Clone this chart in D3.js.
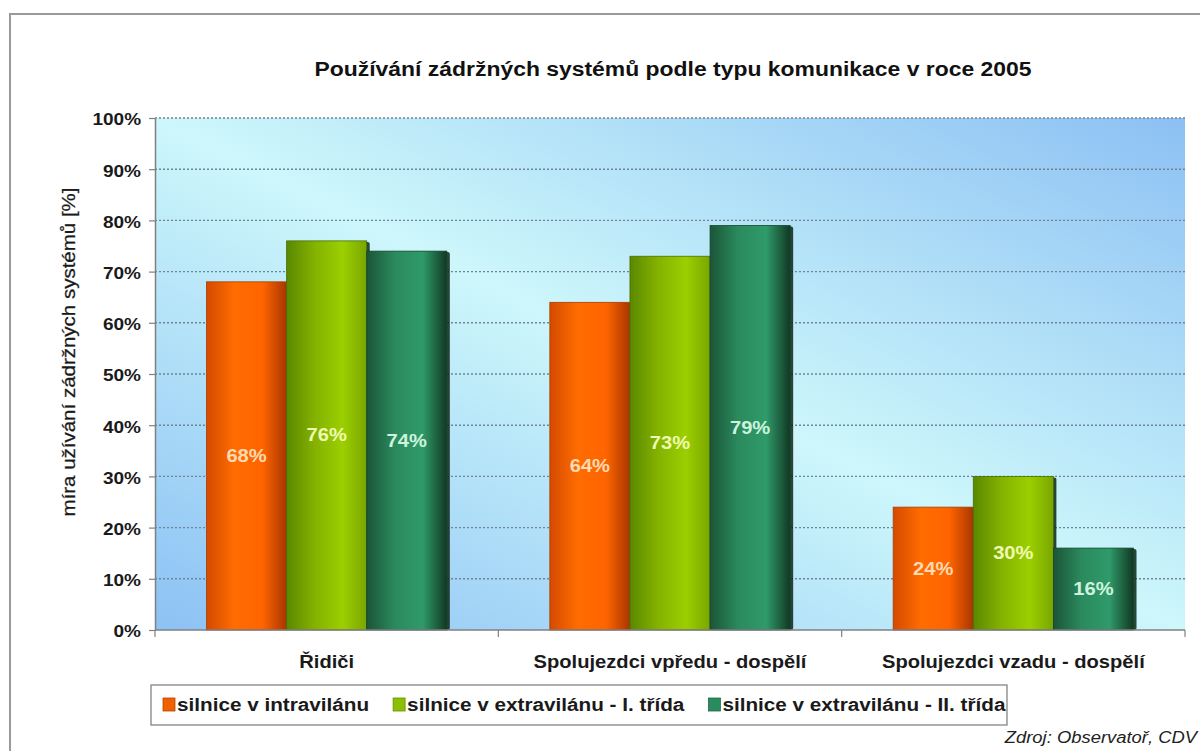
<!DOCTYPE html>
<html>
<head>
<meta charset="utf-8">
<script src="https://cdn.jsdelivr.net/npm/d3@7/dist/d3.min.js"></script>
<style>
  html, body { margin: 0; padding: 0; background: #fff; }
  svg { display: block; font-family: "Liberation Sans", Arial, sans-serif; }
</style>
</head>
<body>
<svg id="chart" width="1200" height="751"></svg>
<script>
// ---- data ----
const categories = ["Řidiči", "Spolujezdci vpředu - dospělí", "Spolujezdci vzadu - dospělí"];
const seriesNames = ["silnice v intravilánu", "silnice v extravilánu - I. třída", "silnice v extravilánu - II. třída"];
const intravilan = [68, 64, 24];
const extravilanI = [76, 73, 30];
const extravilanII = [74, 79, 16];
const yTicks = [0, 10, 20, 30, 40, 50, 60, 70, 80, 90, 100];
const titleText = "Používání zádržných systémů podle typu komunikace v roce 2005";
const yTitle = "míra užívání zádržných systémů [%]";
const sourceText = "Zdroj: Observatoř, CDV";

const seriesValues = [intravilan, extravilanI, extravilanII];

// ---- styles ----
const palette = [
  { stops: ["#d44a00", "#ff6c00", "#ff6400", "#a83600"], label: "#ffd9b0", swatch: "#f06000" },
  { stops: ["#5a8800", "#84b200", "#9ccf00", "#78a600"], label: "#eefab0", swatch: "#8cbf00" },
  { stops: ["#1b5537", "#2a8a5e", "#2f9a6a", "#113823"], label: "#cdf3dc", swatch: "#2a8a60" }
];
const K = 1.15; // horizontal widening of glyphs seen in the reference

function widen(sel, k) {
  sel.each(function () {
    const w = this.getComputedTextLength();
    d3.select(this).attr("textLength", w * k).attr("lengthAdjust", "spacingAndGlyphs");
  });
}

const svg = d3.select("#chart");
const defs = svg.append("defs");

// frame
svg.append("rect").attr("x", 10).attr("y", 14).attr("width", 1200).attr("height", 760)
  .attr("fill", "#fff").attr("stroke", "#9a9a9a").attr("stroke-width", 2);

const margin = { left: 155, right: 1185, top: 118, bottom: 630 };

const x0 = d3.scaleBand().domain(categories).range([margin.left, margin.right])
  .paddingInner(0.3).paddingOuter(0.15);
const x1 = d3.scaleBand().domain(seriesNames).range([0, x0.bandwidth()]).padding(0);
const y = d3.scaleLinear().domain([0, 100]).range([margin.bottom, margin.top]);

// background gradient
const bg = defs.append("linearGradient").attr("id", "bg")
  .attr("x1", 0).attr("y1", 1).attr("x2", 1).attr("y2", 0);
bg.append("stop").attr("offset", 0).attr("stop-color", "#8cc1f4");
bg.append("stop").attr("offset", 0.5).attr("stop-color", "#cdf7fb");
bg.append("stop").attr("offset", 1).attr("stop-color", "#8cc0f3");

palette.forEach((p, i) => {
  const g = defs.append("linearGradient").attr("id", "bar" + i)
    .attr("x1", 0).attr("y1", 0).attr("x2", 1).attr("y2", 0);
  [0, 0.35, 0.7, 1].forEach((o, k) => g.append("stop").attr("offset", o).attr("stop-color", p.stops[k]));
});

svg.append("rect").attr("x", margin.left).attr("y", margin.top)
  .attr("width", margin.right - margin.left).attr("height", margin.bottom - margin.top)
  .attr("fill", "url(#bg)");

// gridlines
svg.append("g").selectAll("line").data(yTicks.filter(d => d > 0)).join("line")
  .attr("x1", margin.left).attr("x2", margin.right)
  .attr("y1", d => y(d)).attr("y2", d => y(d))
  .attr("stroke", "#6f8595").attr("stroke-width", 1.4).attr("stroke-dasharray", "2,2");

// title
svg.append("text").attr("x", 673).attr("y", 76).attr("text-anchor", "middle")
  .attr("font-size", 20).attr("font-weight", "bold").attr("fill", "#111")
  .attr("textLength", 717).attr("lengthAdjust", "spacingAndGlyphs").text(titleText);

// bars
const groups = svg.append("g").selectAll("g").data(categories).join("g")
  .attr("transform", d => `translate(${x0(d)},0)`);

const barData = (c, ci) => seriesNames.map((s, si) => ({ s, si, v: seriesValues[si][ci] }));

groups.each(function (c, ci) {
  const g = d3.select(this);
  const data = barData(c, ci);
  g.selectAll("rect.sh").data(data).join("rect").attr("class", "sh")
    .attr("x", d => x1(d.s) + 3).attr("y", d => y(d.v) + 1)
    .attr("width", x1.bandwidth()).attr("height", d => y(0) - y(d.v) - 1)
    .attr("rx", 2).attr("fill", "#0d2616").attr("opacity", 0.85);
  g.selectAll("rect.bar").data(data).join("rect").attr("class", "bar")
    .attr("x", d => x1(d.s)).attr("y", d => y(d.v))
    .attr("width", x1.bandwidth()).attr("height", d => y(0) - y(d.v))
    .attr("fill", d => `url(#bar${d.si})`)
    .attr("stroke", d => d3.color(palette[d.si].stops[0]).darker(0.6)).attr("stroke-width", 0.8);
  const t = g.selectAll("text.lbl").data(data).join("text").attr("class", "lbl")
    .attr("x", d => x1(d.s) + x1.bandwidth() / 2)
    .attr("y", d => (y(d.v) + y(0)) / 2 + 6)
    .attr("text-anchor", "middle").attr("font-size", 17.5).attr("font-weight", "bold")
    .attr("fill", d => palette[d.si].label)
    .text(d => d.v + "%");
  widen(t, K);
});

// y axis
const yAxis = d3.axisLeft(y).tickValues(yTicks).tickFormat(d => d + "%").tickSize(6).tickPadding(8).tickSizeOuter(0);
const gy = svg.append("g").attr("transform", `translate(${margin.left},0)`).call(yAxis);
gy.select(".domain").attr("stroke", "#808080").attr("stroke-width", 1.5);
gy.selectAll(".tick line").attr("stroke", "#808080").attr("stroke-width", 1.2);
gy.selectAll(".tick text").attr("font-size", 16.5).attr("font-weight", "bold").attr("fill", "#1a1a1a")
  .attr("font-family", "Liberation Sans, Arial, sans-serif").attr("dy", "0.42em");
widen(gy.selectAll(".tick text"), K);

// x axis
svg.append("line").attr("x1", margin.left).attr("x2", margin.right)
  .attr("y1", margin.bottom).attr("y2", margin.bottom).attr("stroke", "#808080").attr("stroke-width", 1.5);
const sepX = [margin.left].concat(categories.map(c => x0(c) + x0.bandwidth() + x0.step() * x0.paddingInner() / 2));
svg.append("g").selectAll("line").data(sepX).join("line")
  .attr("x1", d => Math.min(d, margin.right)).attr("x2", d => Math.min(d, margin.right))
  .attr("y1", margin.bottom).attr("y2", margin.bottom + 7)
  .attr("stroke", "#808080").attr("stroke-width", 1.2);

const xAxis = d3.axisBottom(x0).tickSize(0);
const gx = svg.append("g").attr("transform", `translate(0,${margin.bottom})`).call(xAxis);
gx.select(".domain").remove();
gx.selectAll(".tick text").attr("font-size", 17.5).attr("font-weight", "bold").attr("fill", "#1a1a1a")
  .attr("font-family", "Liberation Sans, Arial, sans-serif").attr("y", 38).attr("dy", 0);
widen(gx.selectAll(".tick text"), K);

// y title
const yt = svg.append("text").attr("transform", "translate(75,352) rotate(-90)").attr("text-anchor", "middle")
  .attr("font-size", 18).attr("fill", "#1a1a1a").attr("stroke", "#1a1a1a").attr("stroke-width", 0.25)
  .text(yTitle);
yt.attr("textLength", 329).attr("lengthAdjust", "spacingAndGlyphs");

// legend
const legend = svg.append("g");
legend.append("rect").attr("x", 151).attr("y", 685).attr("width", 856).attr("height", 40)
  .attr("fill", "#fff").attr("stroke", "#7a7a7a").attr("stroke-width", 1.2);
let lx = 163;
seriesNames.forEach((name, i) => {
  const g = legend.append("g").attr("transform", `translate(${lx},698)`);
  g.append("rect").attr("width", 12).attr("height", 13)
    .attr("fill", palette[i].swatch).attr("stroke", d3.color(palette[i].swatch).darker(0.8)).attr("stroke-width", 0.8);
  const t = g.append("text").attr("x", 14).attr("y", 13).attr("font-size", 18).attr("font-weight", "bold")
    .attr("fill", "#1a1a1a").text(name);
  widen(t, K);
  lx += 14 + (+t.attr("textLength")) + 24;
});

// source
const src = svg.append("text").attr("x", 1197).attr("y", 743).attr("text-anchor", "end")
  .attr("font-size", 16).attr("font-style", "italic").attr("fill", "#222").text(sourceText);
widen(src, K);
</script>
</body>
</html>
